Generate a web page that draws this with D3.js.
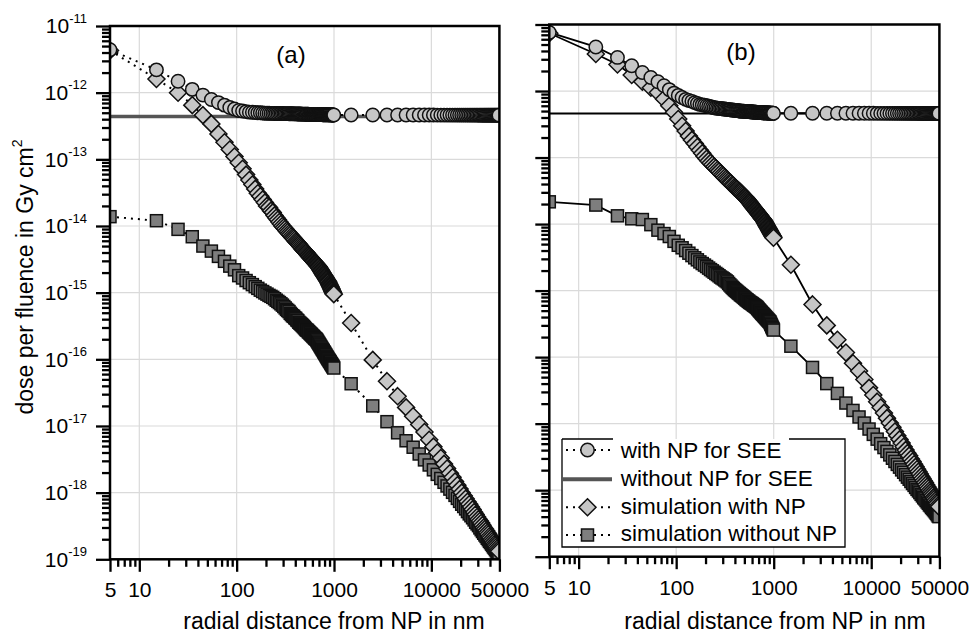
<!DOCTYPE html>
<html>
<head>
<meta charset="utf-8">
<script src="https://cdn.jsdelivr.net/npm/d3@7/dist/d3.min.js"></script>
<style>
html,body{margin:0;padding:0;background:#fff;}
svg{display:block;font-family:"Liberation Sans",Arial,sans-serif;}
</style>
</head>
<body>
<svg id="chart" width="972" height="632"></svg>
<script>
// ---------------- DATA ----------------
const radialDistanceNm = [5,15,25,35,45,55,65,75,85,95,
105,115,125,135,145,155,165,175,185,195,
205,215,225,235,245,255,265,275,285,295,
305,315,325,335,345,355,365,375,385,395,
405,415,425,435,445,455,465,475,485,495,
505,515,525,535,545,555,565,575,585,595,
605,615,625,635,645,655,665,675,685,695,
705,715,725,735,745,755,765,775,785,795,
805,815,825,835,845,855,865,875,885,895,
905,915,925,935,945,955,965,975,985,995,
1500,2500,3500,4500,5500,6500,7500,8500,9500,
10500,11500,12500,13500,14500,15500,16500,17500,18500,19500,
20500,21500,22500,23500,24500,25500,26500,27500,28500,29500,
30500,31500,32500,33500,34500,35500,36500,37500,38500,39500,
40500,41500,42500,43500,44500,45500,46500,47500,48500,49500];

const xTickValues = [5, 10, 100, 1000, 10000, 50000];
const xTickLabels = ["5", "10", "100", "1000", "10000", "50000"];
const yTickValues = [1e-11, 1e-12, 1e-13, 1e-14, 1e-15, 1e-16, 1e-17, 1e-18, 1e-19];
const yTickExponentLabels = ["-11", "-12", "-13", "-14", "-15", "-16", "-17", "-18", "-19"];
const panelLabels = ["(a)", "(b)"];
const seriesNames = ["with NP for SEE", "without NP for SEE", "simulation with NP", "simulation without NP"];
const xAxisTitle = "radial distance from NP in nm";
const yAxisTitle = "dose per fluence in Gy cm";

// panel (a)
const withNPforSEE_a = [4.4e-12,2.2e-12,1.48e-12,1.12e-12,9.2e-13,7.9e-13,7.1e-13,6.5e-13,6.0e-13,5.7e-13,
5.4e-13,5.3e-13,5.2e-13,5.1e-13,5.08e-13,5.05e-13,5.0e-13,4.99e-13,4.95e-13,4.92e-13,
4.9e-13,4.9e-13,4.89e-13,4.89e-13,4.88e-13,4.88e-13,4.87e-13,4.87e-13,4.86e-13,4.86e-13,
4.85e-13,4.85e-13,4.84e-13,4.84e-13,4.83e-13,4.83e-13,4.82e-13,4.82e-13,4.81e-13,4.81e-13,
4.8e-13,4.8e-13,4.79e-13,4.79e-13,4.78e-13,4.78e-13,4.77e-13,4.77e-13,4.76e-13,4.76e-13,
4.75e-13,4.75e-13,4.74e-13,4.74e-13,4.74e-13,4.73e-13,4.73e-13,4.73e-13,4.72e-13,4.72e-13,
4.72e-13,4.71e-13,4.71e-13,4.71e-13,4.7e-13,4.7e-13,4.7e-13,4.7e-13,4.69e-13,4.69e-13,
4.69e-13,4.69e-13,4.68e-13,4.68e-13,4.68e-13,4.68e-13,4.67e-13,4.67e-13,4.67e-13,4.67e-13,
4.66e-13,4.66e-13,4.66e-13,4.66e-13,4.66e-13,4.65e-13,4.65e-13,4.65e-13,4.65e-13,4.65e-13,
4.64e-13,4.64e-13,4.64e-13,4.64e-13,4.64e-13,4.63e-13,4.63e-13,4.63e-13,4.63e-13,4.63e-13,
4.62e-13,4.62e-13,4.62e-13,4.62e-13,4.62e-13,4.62e-13,4.62e-13,4.62e-13,4.62e-13,
4.62e-13,4.61e-13,4.61e-13,4.61e-13,4.61e-13,4.61e-13,4.61e-13,4.61e-13,4.61e-13,4.61e-13,
4.61e-13,4.61e-13,4.61e-13,4.61e-13,4.61e-13,4.61e-13,4.61e-13,4.61e-13,4.61e-13,4.61e-13,
4.61e-13,4.6e-13,4.6e-13,4.6e-13,4.6e-13,4.6e-13,4.6e-13,4.6e-13,4.6e-13,4.6e-13,
4.6e-13,4.6e-13,4.6e-13,4.6e-13,4.6e-13,4.6e-13,4.6e-13,4.6e-13,4.6e-13,4.6e-13];
const withoutNPforSEE_x = [5, 50000];
const withoutNPforSEE_a = [4.4e-13, 4.4e-13];
const simulationWithNP_a = [4.3e-12,1.6e-12,1.0e-12,6.5e-13,4.6e-13,3.4e-13,2.4e-13,1.8e-13,1.4e-13,1.1e-13,
8.9e-14,7.2e-14,5.9e-14,4.9e-14,4.2e-14,3.6e-14,3.1e-14,2.8e-14,2.5e-14,2.25e-14,
2.0e-14,1.9e-14,1.7e-14,1.6e-14,1.44e-14,1.33e-14,1.24e-14,1.15e-14,1.07e-14,1.0e-14,
9.5e-15,9.0e-15,8.5e-15,8.1e-15,7.7e-15,7.4e-15,7.0e-15,6.7e-15,6.5e-15,6.2e-15,
5.9e-15,5.7e-15,5.5e-15,5.3e-15,5.1e-15,4.9e-15,4.7e-15,4.5e-15,4.4e-15,4.25e-15,
4.1e-15,4.0e-15,3.9e-15,3.75e-15,3.64e-15,3.53e-15,3.43e-15,3.32e-15,3.24e-15,3.14e-15,
3.05e-15,2.98e-15,2.9e-15,2.82e-15,2.75e-15,2.69e-15,2.62e-15,2.56e-15,2.49e-15,2.44e-15,
2.36e-15,2.28e-15,2.21e-15,2.14e-15,2.07e-15,2.01e-15,1.95e-15,1.89e-15,1.83e-15,1.79e-15,
1.73e-15,1.69e-15,1.64e-15,1.59e-15,1.55e-15,1.51e-15,1.47e-15,1.43e-15,1.37e-15,1.32e-15,
1.28e-15,1.24e-15,1.2e-15,1.15e-15,1.12e-15,1.08e-15,1.04e-15,1.01e-15,9.8e-16,9.5e-16,
3.5e-16,9.8e-17,4.7e-17,2.8e-17,1.9e-17,1.4e-17,1.05e-17,8.1e-18,6.2e-18,
4.9e-18,4.0e-18,3.3e-18,2.7e-18,2.3e-18,1.95e-18,1.7e-18,1.47e-18,1.29e-18,1.13e-18,
1.0e-18,9.0e-19,8.1e-19,7.3e-19,6.7e-19,6.1e-19,5.6e-19,5.1e-19,4.7e-19,4.3e-19,
4.0e-19,3.75e-19,3.5e-19,3.25e-19,3.0e-19,2.84e-19,2.67e-19,2.5e-19,2.37e-19,2.22e-19,
2.1e-19,1.99e-19,1.88e-19,1.79e-19,1.69e-19,1.61e-19,1.53e-19,1.45e-19,1.38e-19,1.32e-19];
const simulationWithoutNP_a = [1.38e-14,1.2e-14,8.9e-15,6.9e-15,5.0e-15,4.2e-15,3.5e-15,2.95e-15,2.5e-15,2.2e-15,
1.8e-15,1.66e-15,1.52e-15,1.41e-15,1.32e-15,1.23e-15,1.16e-15,1.09e-15,1.04e-15,9.9e-16,
9.5e-16,9.1e-16,8.8e-16,8.5e-16,8.1e-16,7.7e-16,7.4e-16,7.1e-16,6.8e-16,6.5e-16,
6.2e-16,5.9e-16,5.6e-16,5.4e-16,5.2e-16,4.9e-16,4.7e-16,4.5e-16,4.4e-16,4.2e-16,
4.1e-16,3.9e-16,3.8e-16,3.6e-16,3.5e-16,3.4e-16,3.3e-16,3.2e-16,3.1e-16,3.0e-16,
2.9e-16,2.8e-16,2.75e-16,2.7e-16,2.6e-16,2.54e-16,2.48e-16,2.41e-16,2.36e-16,2.29e-16,
2.24e-16,2.19e-16,2.13e-16,2.08e-16,2.04e-16,2.0e-16,1.95e-16,1.88e-16,1.81e-16,1.75e-16,
1.69e-16,1.64e-16,1.58e-16,1.53e-16,1.48e-16,1.43e-16,1.39e-16,1.35e-16,1.3e-16,1.27e-16,
1.23e-16,1.19e-16,1.16e-16,1.12e-16,1.09e-16,1.06e-16,1.03e-16,1.0e-16,9.8e-17,9.5e-17,
9.3e-17,9.1e-17,8.8e-17,8.6e-17,8.4e-17,8.2e-17,8.0e-17,7.8e-17,7.6e-17,7.4e-17,
4.3e-17,2.0e-17,1.16e-17,7.9e-18,6.0e-18,4.8e-18,3.8e-18,3.1e-18,2.6e-18,
2.2e-18,1.88e-18,1.63e-18,1.43e-18,1.26e-18,1.13e-18,1.01e-18,9.1e-19,8.2e-19,7.4e-19,
6.7e-19,6.2e-19,5.7e-19,5.2e-19,4.8e-19,4.5e-19,4.2e-19,3.9e-19,3.6e-19,3.4e-19,
3.2e-19,2.96e-19,2.78e-19,2.61e-19,2.46e-19,2.32e-19,2.2e-19,2.07e-19,1.97e-19,1.86e-19,
1.78e-19,1.69e-19,1.61e-19,1.53e-19,1.47e-19,1.4e-19,1.34e-19,1.28e-19,1.22e-19,1.17e-19];

// panel (b)
const withNPforSEE_b = [7.6e-12,4.6e-12,3.2e-12,2.4e-12,1.9e-12,1.6e-12,1.38e-12,1.2e-12,1.05e-12,9.3e-13,
8.6e-13,8.0e-13,7.5e-13,7.2e-13,7.0e-13,6.7e-13,6.5e-13,6.3e-13,6.2e-13,6.1e-13,
6.0e-13,5.9e-13,5.8e-13,5.7e-13,5.6e-13,5.56e-13,5.52e-13,5.48e-13,5.45e-13,5.42e-13,
5.38e-13,5.36e-13,5.32e-13,5.3e-13,5.26e-13,5.24e-13,5.21e-13,5.19e-13,5.16e-13,5.14e-13,
5.12e-13,5.1e-13,5.07e-13,5.05e-13,5.02e-13,5.0e-13,4.99e-13,4.98e-13,4.97e-13,4.96e-13,
4.95e-13,4.94e-13,4.93e-13,4.92e-13,4.91e-13,4.9e-13,4.89e-13,4.88e-13,4.87e-13,4.86e-13,
4.85e-13,4.84e-13,4.83e-13,4.82e-13,4.81e-13,4.8e-13,4.79e-13,4.78e-13,4.77e-13,4.76e-13,
4.75e-13,4.74e-13,4.74e-13,4.73e-13,4.73e-13,4.72e-13,4.72e-13,4.71e-13,4.71e-13,4.7e-13,
4.7e-13,4.7e-13,4.69e-13,4.69e-13,4.69e-13,4.68e-13,4.68e-13,4.68e-13,4.67e-13,4.67e-13,
4.67e-13,4.66e-13,4.66e-13,4.66e-13,4.65e-13,4.65e-13,4.65e-13,4.64e-13,4.64e-13,4.64e-13,
4.63e-13,4.63e-13,4.63e-13,4.63e-13,4.63e-13,4.63e-13,4.63e-13,4.63e-13,4.63e-13,
4.63e-13,4.62e-13,4.62e-13,4.62e-13,4.62e-13,4.62e-13,4.62e-13,4.62e-13,4.62e-13,4.62e-13,
4.62e-13,4.62e-13,4.62e-13,4.62e-13,4.62e-13,4.62e-13,4.62e-13,4.62e-13,4.62e-13,4.62e-13,
4.62e-13,4.61e-13,4.61e-13,4.61e-13,4.61e-13,4.61e-13,4.61e-13,4.61e-13,4.61e-13,4.61e-13,
4.61e-13,4.61e-13,4.61e-13,4.61e-13,4.61e-13,4.61e-13,4.61e-13,4.61e-13,4.61e-13,4.61e-13];
const withoutNPforSEE_b = [4.6e-13, 4.6e-13];
const simulationWithNP_b = [7.4e-12,3.6e-12,2.5e-12,1.74e-12,1.38e-12,1.12e-12,9.5e-13,7.6e-13,6.0e-13,4.8e-13,
3.8e-13,3.0e-13,2.5e-13,2.1e-13,1.84e-13,1.62e-13,1.44e-13,1.29e-13,1.16e-13,1.05e-13,
9.6e-14,8.9e-14,8.3e-14,7.8e-14,7.3e-14,6.9e-14,6.5e-14,6.2e-14,5.8e-14,5.5e-14,
5.3e-14,5.0e-14,4.8e-14,4.6e-14,4.4e-14,4.2e-14,4.1e-14,3.9e-14,3.8e-14,3.6e-14,
3.5e-14,3.4e-14,3.3e-14,3.2e-14,3.1e-14,3.0e-14,2.9e-14,2.8e-14,2.7e-14,2.6e-14,
2.56e-14,2.49e-14,2.42e-14,2.35e-14,2.27e-14,2.19e-14,2.12e-14,2.05e-14,1.99e-14,1.92e-14,
1.86e-14,1.81e-14,1.75e-14,1.7e-14,1.65e-14,1.61e-14,1.56e-14,1.52e-14,1.48e-14,1.44e-14,
1.4e-14,1.37e-14,1.33e-14,1.3e-14,1.26e-14,1.23e-14,1.2e-14,1.18e-14,1.15e-14,1.12e-14,
1.08e-14,1.05e-14,1.02e-14,9.84e-15,9.55e-15,9.27e-15,8.99e-15,8.73e-15,8.47e-15,8.22e-15,
7.98e-15,7.78e-15,7.55e-15,7.33e-15,7.16e-15,6.95e-15,6.75e-15,6.59e-15,6.43e-15,6.24e-15,
2.45e-15,6.2e-16,3.0e-16,1.82e-16,1.17e-16,8.1e-17,6.2e-17,4.6e-17,3.45e-17,
2.7e-17,2.14e-17,1.75e-17,1.45e-17,1.21e-17,1.02e-17,8.8e-18,7.6e-18,6.6e-18,5.8e-18,
5.1e-18,4.5e-18,4.0e-18,3.6e-18,3.3e-18,2.95e-18,2.7e-18,2.45e-18,2.24e-18,2.06e-18,
1.9e-18,1.75e-18,1.61e-18,1.5e-18,1.39e-18,1.3e-18,1.21e-18,1.13e-18,1.06e-18,9.9e-19,
9.35e-19,8.8e-19,8.3e-19,7.8e-19,7.4e-19,7.0e-19,6.6e-19,6.3e-19,5.9e-19,5.65e-19];
const simulationWithoutNP_b = [2.16e-14,1.93e-14,1.33e-14,1.2e-14,1.17e-14,9.8e-15,8.1e-15,7.2e-15,6.5e-15,5.5e-15,
4.8e-15,4.4e-15,4.0e-15,3.65e-15,3.36e-15,3.11e-15,2.9e-15,2.7e-15,2.55e-15,2.42e-15,
2.3e-15,2.18e-15,2.07e-15,1.98e-15,1.89e-15,1.81e-15,1.74e-15,1.67e-15,1.6e-15,1.55e-15,
1.5e-15,1.45e-15,1.4e-15,1.35e-15,1.28e-15,1.22e-15,1.17e-15,1.12e-15,1.08e-15,1.04e-15,
1.01e-15,9.8e-16,9.5e-16,9.2e-16,9.0e-16,8.7e-16,8.5e-16,8.3e-16,8.1e-16,7.9e-16,
7.7e-16,7.5e-16,7.3e-16,7.2e-16,7.0e-16,6.9e-16,6.7e-16,6.6e-16,6.5e-16,6.4e-16,
6.3e-16,6.15e-16,6.05e-16,5.96e-16,5.85e-16,5.77e-16,5.66e-16,5.56e-16,5.4e-16,5.27e-16,
5.14e-16,5.02e-16,4.9e-16,4.79e-16,4.69e-16,4.58e-16,4.49e-16,4.41e-16,4.31e-16,4.23e-16,
4.13e-16,4.06e-16,3.98e-16,3.89e-16,3.82e-16,3.75e-16,3.68e-16,3.61e-16,3.55e-16,3.48e-16,
3.42e-16,3.37e-16,3.24e-16,3.12e-16,3.03e-16,2.92e-16,2.81e-16,2.73e-16,2.65e-16,2.55e-16,
1.46e-16,7.0e-17,4.0e-17,2.85e-17,2.04e-17,1.58e-17,1.26e-17,1.02e-17,8.3e-18,
6.9e-18,5.85e-18,5.0e-18,4.37e-18,3.83e-18,3.39e-18,3.02e-18,2.7e-18,2.44e-18,2.22e-18,
2.02e-18,1.86e-18,1.71e-18,1.57e-18,1.46e-18,1.35e-18,1.26e-18,1.18e-18,1.1e-18,1.03e-18,
9.75e-19,9.2e-19,8.65e-19,8.2e-19,7.7e-19,7.4e-19,7.0e-19,6.65e-19,6.35e-19,6.0e-19,
5.8e-19,5.5e-19,5.3e-19,5.1e-19,4.9e-19,4.7e-19,4.5e-19,4.3e-19,4.1e-19,4.0e-19];

// ---------------- LAYOUT / STYLE ----------------
const FONT = '"Liberation Sans",Arial,sans-serif';
const MARK_STROKE = '#111';
const MARK_SW = 1.5;
const LIGHT_FILL = '#c6c6c6';
const DARK_FILL = '#7e7e7e';
const GRID = '#dadada';

const panels = [
  {key:'a', label:panelLabels[0], left:110, right:499.4, top:26, bottom:559.3,
   withSEE:withNPforSEE_a, withoutSEE:withoutNPforSEE_a, simWith:simulationWithNP_a, simWithout:simulationWithoutNP_a,
   dotted:true, yLabels:true, hColor:'#555', hWidth:3.5, labelX:291, labelY:63, titleX:334},
  {key:'b', label:panelLabels[1], left:549.3, right:939.4, top:24.5, bottom:556.7,
   withSEE:withNPforSEE_b, withoutSEE:withoutNPforSEE_b, simWith:simulationWithNP_b, simWithout:simulationWithoutNP_b,
   dotted:false, yLabels:false, hColor:'#000', hWidth:2, labelX:741, labelY:60, titleX:775}
];

const svg = d3.select('#chart');
svg.append('rect').attr('width',972).attr('height',632).attr('fill','#fff');
const defs = svg.append('defs');

// minor tick values
const xMinor = [];
[1,10,100,1000,10000].forEach(dec => { for (let m=2;m<=9;m++){ const v=m*dec; if (v>5 && v<50000 && v!==10 && v!==100 && v!==1000 && v!==10000) xMinor.push(v);} });
const yMinor = [];
for (let e=-19;e<=-12;e++){ for (let m=2;m<=9;m++) yMinor.push(m*Math.pow(10,e)); }

function diamondPath(s){ return `M0,${-s}L${s},0L0,${s}L${-s},0Z`; }

panels.forEach(p => {
  const x = d3.scaleLog().domain([5,50000]).range([p.left,p.right]);
  const y = d3.scaleLog().domain([1e-19,1e-11]).range([p.bottom,p.top]);

  defs.append('clipPath').attr('id','clip-'+p.key)
    .append('rect').attr('x',p.left).attr('y',p.top).attr('width',p.right-p.left).attr('height',p.bottom-p.top);

  // grid
  const grid = svg.append('g');
  grid.selectAll('line.gx').data([10,100,1000,10000]).join('line')
    .attr('x1',d=>x(d)).attr('x2',d=>x(d)).attr('y1',p.top).attr('y2',p.bottom)
    .attr('stroke',GRID).attr('stroke-width',1.2);
  grid.selectAll('line.gy').data(yTickValues.slice(1,-1)).join('line')
    .attr('y1',d=>y(d)).attr('y2',d=>y(d)).attr('x1',p.left).attr('x2',p.right)
    .attr('stroke',GRID).attr('stroke-width',1.2);

  const plot = svg.append('g').attr('clip-path',`url(#clip-${p.key})`);

  // horizontal reference "without NP for SEE"
  plot.append('path')
    .datum(d3.zip(withoutNPforSEE_x, p.withoutSEE))
    .attr('d', d3.line().x(d=>x(d[0])).y(d=>y(d[1])))
    .attr('fill','none').attr('stroke',p.hColor).attr('stroke-width',p.hWidth);

  const line = d3.line().x(d=>x(d[0])).y(d=>y(d[1]));
  [p.withSEE, p.simWith, p.simWithout].forEach(vals => {
    plot.append('path').datum(d3.zip(radialDistanceNm, vals)).attr('d',line)
      .attr('fill','none').attr('stroke','#000')
      .attr('stroke-width', p.dotted ? 2 : 1.8)
      .attr('stroke-dasharray', p.dotted ? '2 5' : null);
  });

  // squares
  plot.append('g').selectAll('rect').data(d3.zip(radialDistanceNm, p.simWithout)).join('rect')
    .attr('x',d=>x(d[0])-6).attr('y',d=>y(d[1])-6).attr('width',12).attr('height',12)
    .attr('fill',DARK_FILL).attr('stroke',MARK_STROKE).attr('stroke-width',MARK_SW);
  // diamonds
  plot.append('g').selectAll('path').data(d3.zip(radialDistanceNm, p.simWith)).join('path')
    .attr('transform',d=>`translate(${x(d[0])},${y(d[1])})`).attr('d',diamondPath(8.5))
    .attr('fill',LIGHT_FILL).attr('stroke',MARK_STROKE).attr('stroke-width',MARK_SW);
  // circles
  plot.append('g').selectAll('circle').data(d3.zip(radialDistanceNm, p.withSEE)).join('circle')
    .attr('cx',d=>x(d[0])).attr('cy',d=>y(d[1])).attr('r',6.7)
    .attr('fill',LIGHT_FILL).attr('stroke',MARK_STROKE).attr('stroke-width',MARK_SW);

  // frame
  svg.append('rect').attr('x',p.left).attr('y',p.top).attr('width',p.right-p.left).attr('height',p.bottom-p.top)
    .attr('fill','none').attr('stroke','#000').attr('stroke-width',2.5);

  // x axis
  const gxMinor = svg.append('g').attr('transform',`translate(0,${p.bottom})`)
    .call(d3.axisBottom(x).tickValues(xMinor).tickSize(7.5).tickFormat(''));
  const gxMajor = svg.append('g').attr('transform',`translate(0,${p.bottom})`)
    .call(d3.axisBottom(x).tickValues(xTickValues).tickSize(12.5).tickPadding(10.5).tickFormat((d,i)=>xTickLabels[i]));
  [gxMinor,gxMajor].forEach(g => {
    g.select('.domain').remove();
    g.selectAll('.tick line').attr('stroke','#000').attr('stroke-width',2.3);
  });
  gxMajor.attr('font-size',21).attr('font-family',FONT);
  gxMajor.selectAll('.tick text').attr('fill','#000');

  // y axis
  const gyMinor = svg.append('g').attr('transform',`translate(${p.left},0)`)
    .call(d3.axisLeft(y).tickValues(yMinor).tickSize(8).tickFormat(''));
  const gyMajor = svg.append('g').attr('transform',`translate(${p.left},0)`)
    .call(d3.axisLeft(y).tickValues(yTickValues).tickSize(14).tickPadding(9).tickFormat(''));
  [gyMinor,gyMajor].forEach(g => {
    g.select('.domain').remove();
    g.selectAll('.tick line').attr('stroke','#000').attr('stroke-width',2.3);
  });
  gyMajor.attr('font-size',21).attr('font-family',FONT);
  if (p.yLabels) {
    gyMajor.selectAll('.tick text').attr('fill','#000').each(function(d,i){
      const t = d3.select(this);
      t.append('tspan').text('10');
      t.append('tspan').attr('dy',-10.5).attr('font-size',13).text(yTickExponentLabels[i]);
    });
  }

  // panel label
  svg.append('text').attr('x',p.labelX).attr('y',p.labelY).attr('text-anchor','middle')
    .attr('font-size',24).attr('font-family',FONT).attr('fill','#000').text(p.label);

  // x title
  svg.append('text').attr('x',p.titleX).attr('y',628.5).attr('text-anchor','middle')
    .attr('font-size',23).attr('font-family',FONT).attr('fill','#000').text(xAxisTitle);
});

// y title
const yt = svg.append('text').attr('transform','translate(32.5,277) rotate(-90)')
  .attr('text-anchor','middle').attr('font-size',23).attr('font-family',FONT).attr('fill','#000');
yt.append('tspan').text(yAxisTitle);
yt.append('tspan').attr('dy',-11).attr('font-size',14).text('2');

// legend
const lg = svg.append('g');
const L = {x0:562, x1:845, y0:439, y1:547, symX:587.5, textX:620.7};
lg.append('rect').attr('x',L.x0).attr('y',L.y0).attr('width',L.x1-L.x0).attr('height',L.y1-L.y0).attr('fill','#fff');
const border = `M${L.x0},${L.y0}L${L.x0},${L.y1}L${L.x1},${L.y1}L${L.x1},${L.y0}L789,${L.y0}M${L.x0},${L.y0}L613,${L.y0}`;
lg.append('path').attr('d',border).attr('fill','none').attr('stroke','#000').attr('stroke-width',1.3);
const rows = [
  {name:seriesNames[0], kind:'circle', cy:450, by:457.5},
  {name:seriesNames[1], kind:'line', cy:479.3, by:485.5},
  {name:seriesNames[2], kind:'diamond', cy:507.3, by:513.5},
  {name:seriesNames[3], kind:'square', cy:535, by:541.2}
];
rows.forEach(r => {
  if (r.kind === 'line') {
    lg.append('line').attr('x1',L.x0).attr('x2',612).attr('y1',r.cy).attr('y2',r.cy)
      .attr('stroke','#555').attr('stroke-width',4);
  } else {
    lg.append('line').attr('x1',L.x0+4).attr('x2',612).attr('y1',r.cy).attr('y2',r.cy)
      .attr('stroke','#000').attr('stroke-width',2).attr('stroke-dasharray','2 5');
    if (r.kind === 'circle') lg.append('circle').attr('cx',L.symX).attr('cy',r.cy).attr('r',6.7)
      .attr('fill',LIGHT_FILL).attr('stroke',MARK_STROKE).attr('stroke-width',MARK_SW);
    if (r.kind === 'diamond') lg.append('path').attr('transform',`translate(${L.symX},${r.cy})`).attr('d',diamondPath(8.5))
      .attr('fill',LIGHT_FILL).attr('stroke',MARK_STROKE).attr('stroke-width',MARK_SW);
    if (r.kind === 'square') lg.append('rect').attr('x',L.symX-6).attr('y',r.cy-6).attr('width',12).attr('height',12)
      .attr('fill',DARK_FILL).attr('stroke',MARK_STROKE).attr('stroke-width',MARK_SW);
  }
  lg.append('text').attr('x',L.textX).attr('y',r.by).attr('font-size',22.5).attr('font-family',FONT)
    .attr('fill','#000').text(r.name);
});
</script>
</body>
</html>
